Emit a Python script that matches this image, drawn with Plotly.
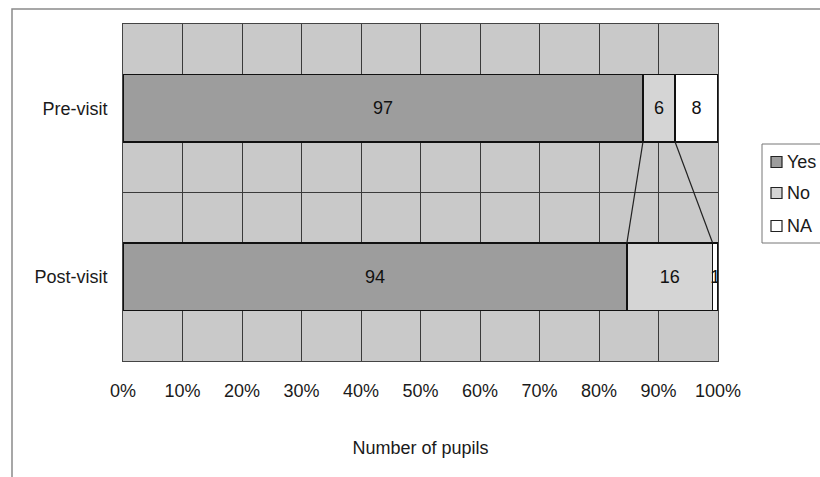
import plotly.graph_objects as go

# Survey answers, counted per visit stage
stages = ["Pre-visit", "Post-visit"]
answers = ["Yes", "No", "NA"]
yes_counts = [97, 94]
no_counts = [6, 16]
na_counts = [8, 1]

series = {"Yes": yes_counts, "No": no_counts, "NA": na_counts}
fills = {"Yes": "#9d9d9d", "No": "#d5d5d5", "NA": "#ffffff"}

W, H = 820, 477
# plot area in pixels
PL, PR, PT, PB = 123, 718, 24, 361
BARGAP = 0.6

fig = go.Figure()
for name in answers:
    vals = series[name]
    fig.add_trace(go.Bar(
        y=stages, x=vals, name=name, orientation="h",
        text=[str(v) for v in vals],
        textposition="inside", insidetextanchor="middle",
        constraintext="none", textangle=0,
        textfont=dict(size=18, color="#111111"),
        marker=dict(color=fills[name], line=dict(color="#111111", width=1.5)),
        hoverinfo="skip", showlegend=False,
    ))

# series lines joining the segment edges of the two bars
totals = [y + n + a for y, n, a in zip(yes_counts, no_counts, na_counts)]
cum_yes = [100.0 * y / t for y, t in zip(yes_counts, totals)]
cum_no = [100.0 * (y + n) / t for y, n, t in zip(yes_counts, no_counts, totals)]
half = (1 - BARGAP) / 2
shapes = []
for cum in (cum_yes, cum_no):
    shapes.append(dict(type="line", xref="x", yref="y",
                       x0=cum[0], y0=0 + half, x1=cum[1], y1=1 - half,
                       line=dict(color="#222222", width=1.2)))

pw, ph = PR - PL, PB - PT
def px_x(p):
    return (p - PL) / pw
def px_y(p):
    return (PB - p) / ph

# outer chart frame (runs past the right and bottom edges)
shapes.append(dict(type="rect", xref="paper", yref="paper",
                   x0=px_x(12), y0=px_y(H + 20), x1=px_x(W + 20), y1=px_y(9),
                   line=dict(color="#8a8a8a", width=1.5), layer="below"))

# legend box with swatches
annotations = []
shapes.append(dict(type="rect", xref="paper", yref="paper",
                   x0=px_x(762), y0=px_y(243), x1=px_x(W + 20), y1=px_y(144),
                   line=dict(color="#777777", width=1), fillcolor="#ffffff"))
legend_rows = [162, 193, 226]
for name, cy in zip(answers, legend_rows):
    shapes.append(dict(type="rect", xref="paper", yref="paper",
                       x0=px_x(771), x1=px_x(782), y0=px_y(cy + 5.5), y1=px_y(cy - 5.5),
                       line=dict(color="#222222", width=1.2), fillcolor=fills[name]))
    annotations.append(dict(xref="paper", yref="paper", x=px_x(785), y=px_y(cy),
                            xanchor="left", yanchor="middle", showarrow=False,
                            text=name, font=dict(size=18, color="#1a1a1a")))

fig.update_layout(
    width=W, height=H,
    margin=dict(l=PL, r=W - PR, t=PT, b=H - PB, autoexpand=False),
    paper_bgcolor="#ffffff", plot_bgcolor="#c9c9c9",
    barmode="stack", barnorm="percent", bargap=BARGAP,
    font=dict(family="Liberation Sans, Arial, sans-serif", size=18, color="#1a1a1a"),
    shapes=shapes, annotations=annotations,
    showlegend=False,
)

fig.update_xaxes(
    range=[0, 100], dtick=10, ticksuffix="%",
    showgrid=True, gridcolor="#3a3a3a", gridwidth=1,
    showline=True, mirror=True, linecolor="#444444", linewidth=1,
    ticks="", ticklabelstandoff=13, zeroline=False,
    title=dict(text="Number of pupils", standoff=41, font=dict(size=18)),
    fixedrange=True,
)
fig.update_yaxes(
    categoryorder="array", categoryarray=stages,
    range=[1.5, -0.5], tickson="boundaries",
    showgrid=True, gridcolor="#3a3a3a", gridwidth=1,
    showline=True, mirror=True, linecolor="#444444", linewidth=1,
    ticks="", ticklabelstandoff=11, fixedrange=True,
)

fig.write_html("out.html")
